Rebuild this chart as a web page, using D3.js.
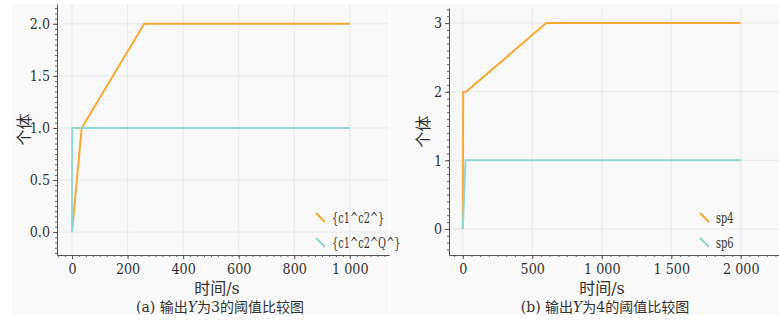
<!DOCTYPE html>
<html>
<head>
<meta charset="utf-8">
<script src="https://cdn.jsdelivr.net/npm/d3@7"></script>
<style>
    body { margin: 0; background: #fff; }
    svg { display: block; }
    svg text { font-family: "DejaVu Serif", "Liberation Serif", "Noto Sans CJK SC"; }
</style>
</head>
<body>
<div class="chart-container"></div>
<script>
// --- Data ---
// panel (a): output Y = 3
const seriesA1 = [[0, 0], [35, 1], [260, 2], [1000, 2]];          // {c1^c2^}
const seriesA2 = [[0, 0], [1, 1], [1000, 1]];                      // {c1^c2^Q^}
const xTicksA = [0, 200, 400, 600, 800, 1000];
const yTicksA = [0, 0.5, 1.0, 1.5, 2.0];
const legendA = ["{c1^c2^}", "{c1^c2^Q^}"];

// panel (b): output Y = 4
const seriesB1 = [[0, 0], [3, 2], [25, 2], [600, 3], [2000, 3]];  // sp4
const seriesB2 = [[0, 0], [20, 1], [2000, 1]];                     // sp6
const xTicksB = [0, 500, 1000, 1500, 2000];
const yTicksB = [0, 1, 2, 3];
const legendB = ["sp4", "sp6"];

const colors = ["#f6aa3c", "#93d6d4"];

const W = 779, H = 320;
const svg = d3.select(".chart-container").append("svg")
    .attr("width", W)
    .attr("height", H);

// light panel backgrounds
svg.append("rect").attr("x", 12).attr("y", 4).attr("width", 377).attr("height", 311).attr("fill", "#f9f9f9");
svg.append("rect").attr("x", 390).attr("y", 4).attr("width", 389).attr("height", 311).attr("fill", "#f9f9f9");

const fmtX = d => d3.format(",")(d).replace(/,/g, " ");

// squeeze the wide serif a bit so it reads like the narrower original face
function narrow(sel, k) {
    sel.each(function () {
        const w = this.getComputedTextLength();
        d3.select(this).attr("textLength", w * k).attr("lengthAdjust", "spacingAndGlyphs");
    });
}

function drawPanel(cfg) {
    const x = d3.scaleLinear().domain(cfg.xDomain).range(cfg.xRange);
    const y = d3.scaleLinear().domain(cfg.yDomain).range(cfg.yRange);
    const g = svg.append("g");

    // grid
    g.selectAll(".vgrid").data(cfg.xTicks).enter().append("line")
        .attr("x1", d => x(d)).attr("x2", d => x(d))
        .attr("y1", cfg.yRange[1]).attr("y2", cfg.yRange[0])
        .attr("stroke", "#e9e9e9").attr("stroke-width", 1);
    g.selectAll(".hgrid").data(cfg.yTicks).enter().append("line")
        .attr("x1", cfg.xRange[0]).attr("x2", cfg.xRange[1])
        .attr("y1", d => y(d)).attr("y2", d => y(d))
        .attr("stroke", "#e9e9e9").attr("stroke-width", 1);

    // minor ticks
    const xMinor = d3.range(Math.ceil(cfg.xDomain[0] / cfg.xMinor) * cfg.xMinor, cfg.xDomain[1], cfg.xMinor);
    const yMinor = d3.range(Math.ceil(cfg.yDomain[0] / cfg.yMinor) * cfg.yMinor, cfg.yDomain[1], cfg.yMinor);
    g.append("g")
        .attr("transform", `translate(0,${cfg.yRange[0]})`)
        .call(d3.axisBottom(x).tickValues(xMinor).tickSize(2).tickFormat(""))
        .call(a => a.select(".domain").remove())
        .selectAll("line").attr("stroke", "#666");
    g.append("g")
        .attr("transform", `translate(${cfg.xRange[0]},0)`)
        .call(d3.axisLeft(y).tickValues(yMinor).tickSize(2).tickFormat(""))
        .call(a => a.select(".domain").remove())
        .selectAll("line").attr("stroke", "#666");

    // major axes
    const xAxis = g.append("g")
        .attr("transform", `translate(0,${cfg.yRange[0]})`)
        .call(d3.axisBottom(x).tickValues(cfg.xTicks).tickSize(4).tickSizeOuter(0).tickPadding(4).tickFormat(fmtX));
    const yAxis = g.append("g")
        .attr("transform", `translate(${cfg.xRange[0]},0)`)
        .call(d3.axisLeft(y).tickValues(cfg.yTicks).tickSize(4).tickSizeOuter(0).tickPadding(3).tickFormat(cfg.yFormat));
    [xAxis, yAxis].forEach(a => {
        a.attr("font-family", null);
        a.select(".domain").attr("stroke", "#555");
        a.selectAll(".tick line").attr("stroke", "#555");
        a.selectAll("text")
            .attr("fill", "#333")
            .style("font-size", "15px")
            .call(narrow, 0.85);
    });

    // lines
    const line = d3.line().x(d => x(d[0])).y(d => y(d[1]));
    cfg.series.forEach((s, i) => {
        g.append("path")
            .datum(s)
            .attr("d", line)
            .attr("fill", "none")
            .attr("stroke", colors[i])
            .attr("stroke-width", 2)
            .attr("stroke-linejoin", "round");
    });

    // legend
    const lg = g.append("g").attr("transform", `translate(${cfg.legendPos[0]},${cfg.legendPos[1]})`);
    const items = lg.selectAll(".item").data(cfg.legend).enter().append("g")
        .attr("transform", (d, i) => `translate(0,${i * 25})`);
    items.append("line")
        .attr("x1", 0).attr("y1", -5).attr("x2", 9).attr("y2", 4)
        .attr("stroke", (d, i) => colors[i])
        .attr("stroke-width", 2);
    items.append("text")
        .attr("x", 16).attr("y", 0).attr("dy", "0.35em")
        .attr("fill", "#333")
        .style("font-size", "14px")
        .text(d => d)
        .call(narrow, 0.7);

    // axis titles
    g.append("text")
        .attr("transform", `translate(${cfg.yTitleX},${(cfg.yRange[0] + cfg.yRange[1]) / 2}) rotate(-90)`)
        .attr("text-anchor", "middle")
        .attr("dy", "0.35em")
        .attr("fill", "#333")
        .style("font-size", "16px")
        .text("个体");
    g.append("text")
        .attr("x", cfg.xTitleX).attr("y", 288).attr("dy", "0.35em")
        .attr("text-anchor", "middle")
        .attr("fill", "#333")
        .style("font-size", "16px")
        .text("时间/s");

    // caption
    const cap = g.append("text")
        .attr("x", cfg.xTitleX + 3).attr("y", 307).attr("dy", "0.35em")
        .attr("text-anchor", "middle")
        .attr("fill", "#333")
        .style("font-size", "14px");
    cap.append("tspan").text(cfg.caption[0]);
    cap.append("tspan").style("font-style", "italic").text("Y");
    cap.append("tspan").text(cfg.caption[1]);
}

drawPanel({
    xDomain: [-54, 1141], xRange: [57, 389],
    yDomain: [-0.22, 2.19], yRange: [255, 4],
    xTicks: xTicksA, yTicks: yTicksA, xMinor: 25, yMinor: 0.05,
    yFormat: d3.format(".1f"),
    series: [seriesA1, seriesA2],
    legend: legendA, legendPos: [316, 218],
    yTitleX: 24, xTitleX: 217,
    caption: ["(a) 输出", "为3的阈值比较图"]
});

drawPanel({
    xDomain: [-99, 2275], xRange: [449, 779],
    yDomain: [-0.38, 3.22], yRange: [255, 8],
    xTicks: xTicksB, yTicks: yTicksB, xMinor: 62.5, yMinor: 0.1,
    yFormat: d3.format("d"),
    series: [seriesB1, seriesB2],
    legend: legendB, legendPos: [700, 218],
    yTitleX: 423, xTitleX: 602,
    caption: ["(b) 输出", "为4的阈值比较图"]
});
</script>
</body>
</html>
